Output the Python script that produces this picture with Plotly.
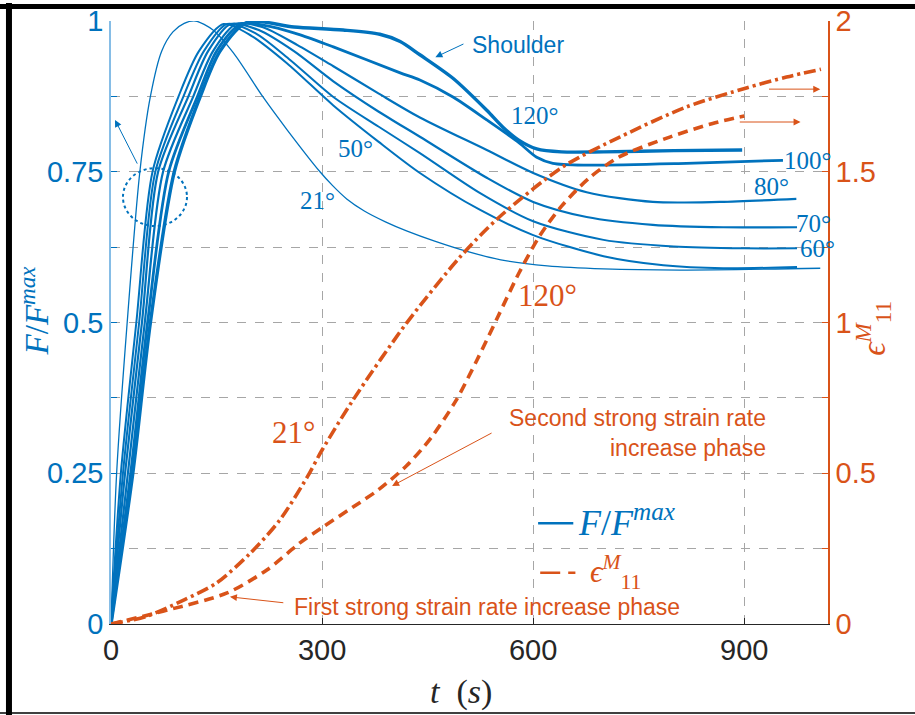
import plotly.graph_objects as go

BLUE = "#0072BD"
ORANGE = "#D95319"
GRID = "#a6a6a6"

# ---------------- data ----------------
t_21 = [0, 8, 23, 41, 56, 72, 88, 104, 120, 145, 174, 216, 250, 297, 315, 335, 360, 390, 420, 460, 506, 554, 620, 700, 808, 1008]
f_21 = [0, 0.25, 0.5, 0.75, 0.875, 0.95, 0.982, 0.996, 1.0, 0.985, 0.947, 0.874, 0.82, 0.75, 0.727, 0.705, 0.685, 0.667, 0.652, 0.635, 0.618, 0.604, 0.594, 0.589, 0.587, 0.59]

t_50 = [0, 14, 36, 59, 96, 125, 160, 200, 250, 316, 380, 439, 524, 600, 700, 785, 870, 975]
f_50 = [0, 0.25, 0.5, 0.75, 0.875, 0.95, 0.995, 0.975, 0.93, 0.86, 0.80, 0.748, 0.687, 0.645, 0.61, 0.595, 0.59, 0.592]

t_60 = [0, 17, 40, 63, 103, 132, 165, 205, 255, 316, 380, 439, 524, 600, 700, 800, 900, 975]
f_60 = [0, 0.25, 0.5, 0.75, 0.875, 0.95, 0.995, 0.98, 0.935, 0.874, 0.825, 0.781, 0.715, 0.668, 0.637, 0.626, 0.623, 0.623]

t_70 = [0, 20, 44, 67, 110, 138, 170, 210, 260, 316, 380, 439, 534, 600, 676, 770, 870, 975]
f_70 = [0, 0.25, 0.5, 0.75, 0.875, 0.95, 0.995, 0.985, 0.95, 0.90, 0.85, 0.808, 0.74, 0.70, 0.675, 0.662, 0.658, 0.658]

t_80 = [0, 24, 48, 74, 117, 145, 178, 215, 265, 316, 380, 439, 534, 600, 676, 770, 865, 974]
f_80 = [0, 0.25, 0.5, 0.75, 0.875, 0.95, 0.995, 0.99, 0.96, 0.925, 0.88, 0.84, 0.786, 0.748, 0.716, 0.70, 0.70, 0.705]

t_100 = [0, 28, 52, 82, 123, 150, 185, 230, 269, 316, 411, 439, 486, 534, 580, 605, 628, 676, 818, 955]
f_100 = [0, 0.25, 0.5, 0.75, 0.875, 0.95, 0.995, 0.99, 0.977, 0.957, 0.914, 0.902, 0.874, 0.836, 0.798, 0.774, 0.764, 0.761, 0.764, 0.769]

t_120 = [0, 31, 56, 90, 127, 155, 194, 260, 330, 382, 411, 439, 486, 534, 557, 580, 605, 640, 700, 800, 897]
f_120 = [0, 0.25, 0.5, 0.75, 0.875, 0.95, 0.998, 0.99, 0.985, 0.978, 0.966, 0.944, 0.905, 0.852, 0.824, 0.802, 0.788, 0.783, 0.783, 0.785, 0.786]

te_21 = [0, 50, 104, 150, 198, 240, 279, 300, 344, 420, 496, 552, 642, 723, 818, 903, 960, 1009]
e_21 = [0, 0.025, 0.08, 0.136, 0.235, 0.345, 0.488, 0.577, 0.743, 0.998, 1.217, 1.35, 1.516, 1.615, 1.715, 1.778, 1.814, 1.84]

te_120 = [0, 80, 165, 222, 269, 300, 344, 380, 420, 454, 490, 520, 550, 580, 610, 640, 680, 723, 794, 855, 900]
e_120 = [0, 0.046, 0.103, 0.18, 0.27, 0.32, 0.388, 0.445, 0.525, 0.615, 0.74, 0.875, 1.02, 1.165, 1.29, 1.385, 1.48, 1.55, 1.615, 1.66, 1.685]

x_ticks = [0, 300, 600, 900]
yl_ticks = [0, 0.25, 0.5, 0.75, 1]
yl_labels = ["0", "0.25", "0.5", "0.75", "1"]
yr_ticks = [0, 0.5, 1, 1.5, 2]
yr_labels = ["0", "0.5", "1", "1.5", "2"]

force_curves = [
    (t_21, f_21, 1.3), (t_50, f_50, 2.0), (t_60, f_60, 2.0), (t_70, f_70, 2.2),
    (t_80, f_80, 2.2), (t_100, f_100, 2.8), (t_120, f_120, 3.4),
]

fig = go.Figure()
for tt, ff, w in force_curves:
    fig.add_trace(go.Scatter(x=tt, y=ff, mode="lines", line=dict(color=BLUE, width=w, shape="spline", smoothing=0.8),
                             showlegend=False, hoverinfo="skip"))

fig.add_trace(go.Scatter(x=te_21, y=e_21, yaxis="y2", mode="lines",
                         line=dict(color=ORANGE, width=3.6, dash="12px,4px,3px,4px", shape="spline", smoothing=0.8),
                         showlegend=False, hoverinfo="skip"))
fig.add_trace(go.Scatter(x=te_120, y=e_120, yaxis="y2", mode="lines",
                         line=dict(color=ORANGE, width=3.6, dash="10px,6px", shape="spline", smoothing=0.8),
                         showlegend=False, hoverinfo="skip"))

serif = "Liberation Serif, Times New Roman, serif"
sans = "Liberation Sans, Arial, sans-serif"

fig.update_layout(
    width=915, height=715, autosize=False,
    margin=dict(l=111, r=87, t=21, b=91, autoexpand=False),
    paper_bgcolor="white", plot_bgcolor="white",
    xaxis=dict(range=[0, 1019], tickvals=x_ticks, ticks="inside", ticklen=6, tickcolor="#262626",
               showline=True, linecolor="#262626", linewidth=1, automargin=False,
               showgrid=True, gridcolor=GRID, griddash="dash", gridwidth=1, zeroline=False,
               tickfont=dict(family=sans, size=29, color="#262626")),
    yaxis=dict(range=[0, 1], tickvals=yl_ticks, ticktext=yl_labels, ticks="inside", ticklen=6, tickcolor=BLUE,
               showline=True, linecolor="#86bde6", linewidth=1.5, automargin=False,
               showgrid=True, gridcolor=GRID, griddash="dash", zeroline=False,
               minor=dict(dtick=0.125, tick0=0, showgrid=True, gridcolor=GRID, griddash="dash", ticks="inside", ticklen=6, tickcolor=BLUE),
               tickfont=dict(family=sans, size=29, color=BLUE)),
    yaxis2=dict(range=[0, 2], overlaying="y", side="right", tickvals=yr_ticks, ticktext=yr_labels,
                ticks="inside", ticklen=6, tickcolor=ORANGE, showline=True, linecolor=ORANGE, linewidth=1.5,
                showgrid=False, zeroline=False, automargin=False,
                minor=dict(dtick=0.25, tick0=0, ticks="inside", ticklen=6, tickcolor=ORANGE, showgrid=False),
                tickfont=dict(family=sans, size=29, color=ORANGE)),
)

# axis titles as annotations (paper coordinates)
fig.add_annotation(xref="paper", yref="paper", x=-0.106, y=0.52, xanchor="center", yanchor="middle",
                   text="<i>F</i>/<i>F</i><sup><i>max</i></sup>",
                   textangle=-90, showarrow=False, font=dict(family=serif, size=33, color=BLUE))
fig.add_annotation(xref="paper", yref="paper", x=1.063, y=0.49, xanchor="center", yanchor="middle",
                   text="<i>ϵ</i><sup><i>M</i></sup><sub>11</sub>",
                   textangle=-90, showarrow=False, font=dict(family=serif, size=33, color=ORANGE))
fig.add_annotation(xref="paper", yref="paper", x=0.488, y=-0.113, xanchor="center", yanchor="middle",
                   text="<i>t</i>&nbsp;&nbsp;(<i>s</i>)",
                   showarrow=False, font=dict(family=serif, size=34, color="#262626"))

def ann(text, x, y, color, size, family, **kw):
    fig.add_annotation(x=x, y=y, xref="x", yref="y", text=text, showarrow=False,
                       font=dict(color=color, size=size, family=family), **kw)

def arrow(x0, y0, x1, y1, color, width=1):
    fig.add_annotation(x=x1, y=y1, ax=x0, ay=y0, xref="x", yref="y", axref="x", ayref="y",
                       text="", showarrow=True, arrowhead=2, arrowsize=1.4, arrowwidth=width, arrowcolor=color)

# blue angle labels
ann("21°", 294, 0.703, BLUE, 25, serif)
ann("50°", 347, 0.789, BLUE, 25, serif)
ann("120°", 603, 0.844, BLUE, 25, serif)
ann("100°", 991, 0.769, BLUE, 25, serif)
ann("80°", 938, 0.726, BLUE, 25, serif)
ann("70°", 998, 0.664, BLUE, 25, serif)
ann("60°", 1004, 0.622, BLUE, 25, serif)
# orange labels
ann("21°", 259, 0.317, ORANGE, 31, serif)
ann("120°", 621, 0.544, ORANGE, 31, serif)

ann("Shoulder", 579, 0.960, BLUE, 23, sans)
ann("First strong strain rate increase phase", 535, 0.028, ORANGE, 23, sans)
ann("Second strong strain rate<br>increase phase", 934, 0.317, ORANGE, 23, sans, xanchor="right", align="right")

arrow(38.4, 0.761, 5.7, 0.836, BLUE)
arrow(503, 0.963, 461, 0.940, BLUE)
arrow(933, 0.887, 1008, 0.887, ORANGE)
arrow(891.5, 0.8325, 980, 0.8325, ORANGE)
arrow(247, 0.035, 169, 0.045, ORANGE)
arrow(543, 0.318, 399.5, 0.229, ORANGE)

# dotted ellipse
fig.add_shape(type="circle", xref="x", yref="y", x0=17, x1=108, y0=0.66, y1=0.756,
              line=dict(color=BLUE, width=2, dash="dot"))

# legend (drawn)
fig.add_shape(type="line", xref="x", yref="y", x0=607, x1=657, y0=0.167, y1=0.167, line=dict(color=BLUE, width=2.5))
ann("<i>F</i>/<i>F</i><sup><i>max</i></sup>", 661, 0.172, BLUE, 36, serif, xanchor="left")
fig.add_shape(type="line", xref="x", yref="y", x0=610, x1=660, y0=0.085, y1=0.085,
              line=dict(color=ORANGE, width=2.5, dash="20px,8px"))
ann("<i>ϵ</i><sup><i>M</i></sup><sub>11</sub>", 678, 0.087, ORANGE, 31, serif, xanchor="left")

# outer frame
fig.add_shape(type="line", xref="paper", yref="paper", x0=-0.16, x1=1.125, y0=1.024, y1=1.024,
              line=dict(color="black", width=5))
fig.add_shape(type="line", xref="paper", yref="paper", x0=-0.1423, x1=-0.1423, y0=-0.152, y1=1.03,
              line=dict(color="black", width=6))
fig.add_shape(type="line", xref="paper", yref="paper", x0=-0.16, x1=1.125, y0=-0.1476, y1=-0.1476,
              line=dict(color="black", width=1.5))

fig.write_html("out.html", config={"displayModeBar": False},
               post_script="document.body.style.margin='0px';document.body.style.overflow='hidden';")
